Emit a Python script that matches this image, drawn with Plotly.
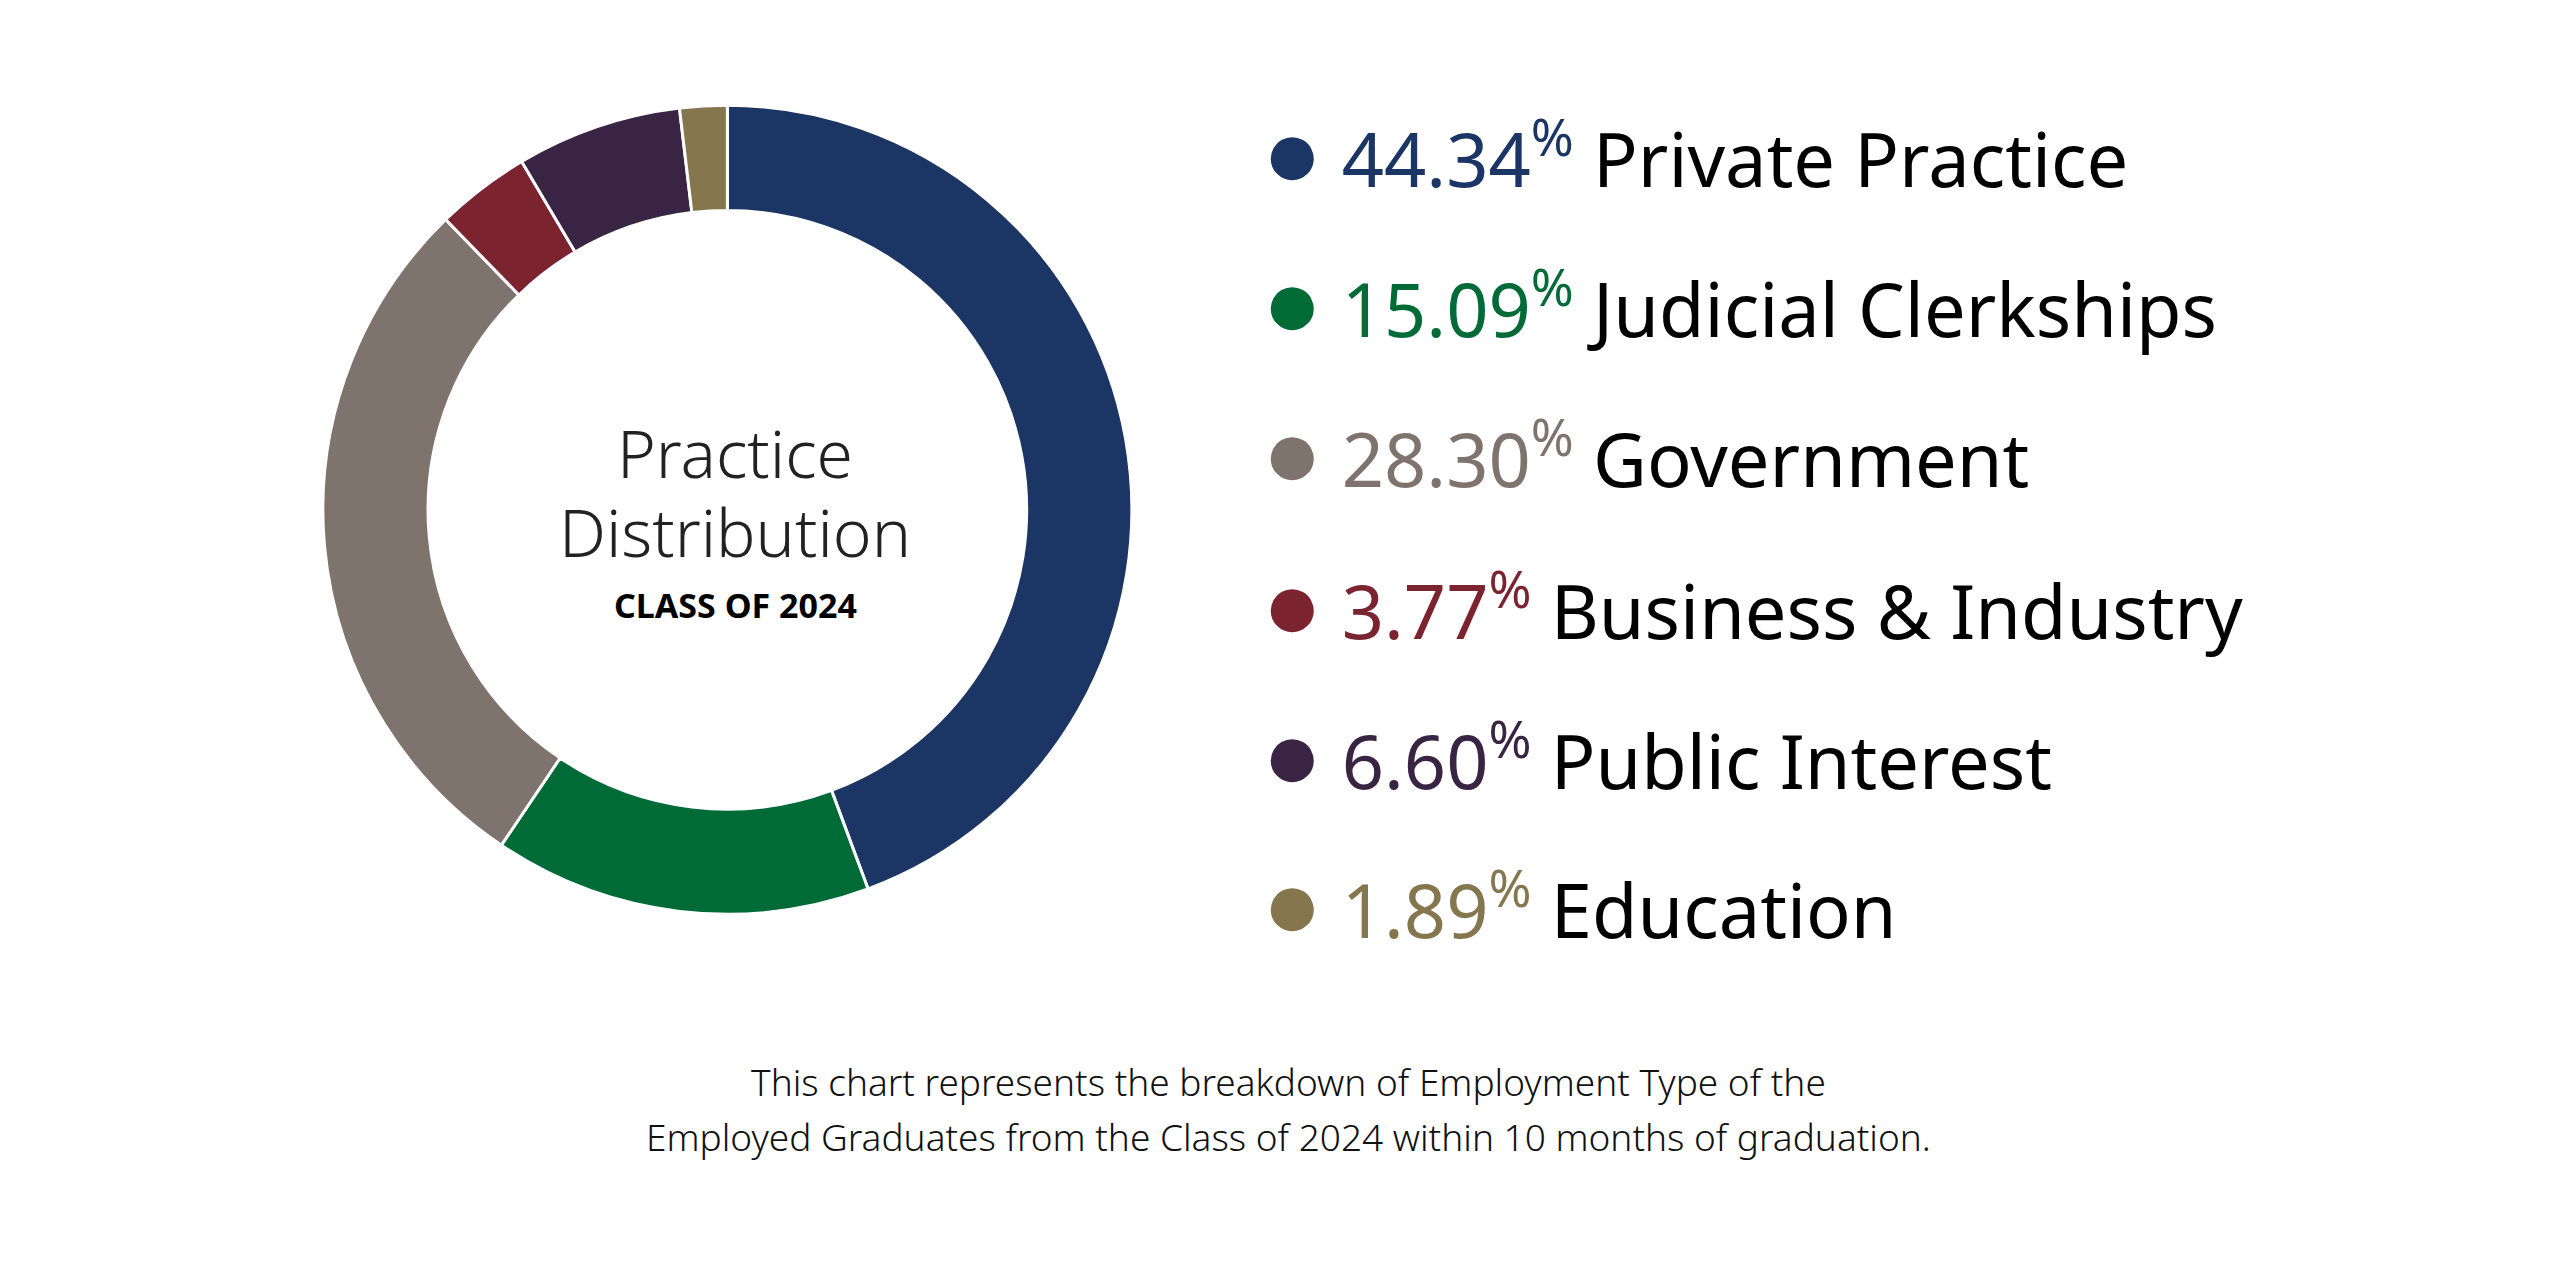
import plotly.graph_objects as go

categories = ["Private Practice", "Judicial Clerkships", "Government", "Business & Industry", "Public Interest", "Education"]
values = [44.34, 15.09, 28.30, 3.77, 6.60, 1.89]
colors = ["#1b3564", "#006b37", "#7f736d", "#7b2430", "#3a2444", "#85764e"]

FONT = "Noto Sans"
fig = go.Figure(go.Pie(
    labels=categories, values=values, sort=False, direction="clockwise", rotation=0,
    hole=0.74, marker=dict(colors=colors, line=dict(color="white", width=3)),
    textinfo="none", hoverinfo="label+percent", showlegend=False,
    domain=dict(x=[0.123, 0.439], y=[0.292, 0.924]),
))

ann = []
ys = [140, 290, 440, 592, 742, 891]
for cat, v, c, y in zip(categories, values, colors, ys):
    ann.append(dict(
        x=1252 / 2560, y=1 - y / 1280, xref="paper", yref="paper", xanchor="left", yanchor="middle",
        showarrow=False,
        text=(f"<span style='color:{c};font-size:100px'>●</span> "
              f"<span style='color:{c}'>{v:.2f}<sup style='font-size:40px'>%</sup></span> {cat}"),
        font=dict(family=FONT, size=74, color="black"),
    ))
ann += [
    dict(x=0.284, y=1 - 444 / 1280, text="Practice", font=dict(family=FONT, size=66, color="#222", weight=300)),
    dict(x=0.284, y=1 - 523 / 1280, text="Distribution", font=dict(family=FONT, size=66, color="#222", weight=300)),
    dict(x=0.284, y=1 - 597 / 1280, text="<b>CLASS OF 2024</b>", font=dict(family=FONT, size=34, color="black")),
    dict(x=0.5, y=1 - 1073 / 1280, text="This chart represents the breakdown of Employment Type of the",
         font=dict(family=FONT, size=37, color="#111", weight=300)),
    dict(x=0.5, y=1 - 1128 / 1280, text="Employed Graduates from the Class of 2024 within 10 months of graduation.",
         font=dict(family=FONT, size=37, color="#111", weight=300)),
]
for a in ann[6:]:
    a.update(xref="paper", yref="paper", xanchor="center", yanchor="middle", showarrow=False)

fig.update_layout(width=2560, height=1280, margin=dict(l=0, r=0, t=0, b=0),
                  paper_bgcolor="white", plot_bgcolor="white", annotations=ann)
fig.write_html("out.html")
